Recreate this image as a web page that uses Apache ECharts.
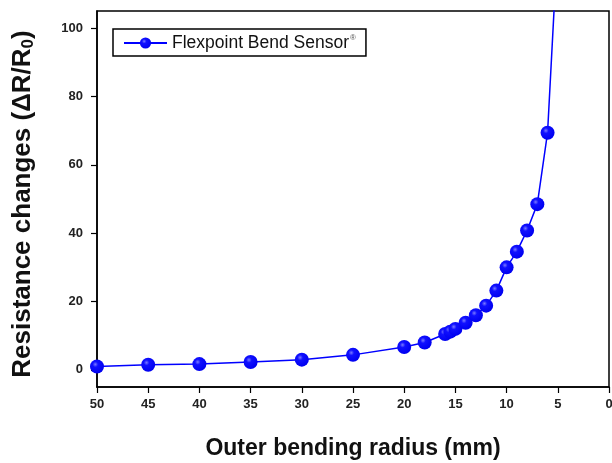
<!DOCTYPE html>
<html>
<head>
<meta charset="utf-8">
<script src="https://cdn.jsdelivr.net/npm/echarts@6/dist/echarts.min.js"></script>
<style>html,body{margin:0;padding:0;background:#fff}#c{width:612px;height:463px}</style>
</head>
<body>
<div id="c"></div>
<script>
// Data
const radius = [50, 45, 40, 35, 30, 25, 20, 18, 16, 15.5, 15, 14, 13, 12, 11, 10, 9, 8, 7, 6, 5];
const resistance = [1.0, 1.5, 1.7, 2.3, 3.0, 4.4, 6.7, 8.0, 10.5, 11.2, 12.0, 13.8, 16.0, 18.8, 23.2, 30.0, 34.6, 40.8, 48.5, 69.4, 126];
const xTicks = [50, 45, 40, 35, 30, 25, 20, 15, 10, 5, 0];
const yTicks = [0, 20, 40, 60, 80, 100];
const seriesName = 'Flexpoint Bend Sensor';

const points = radius.map((r, i) => [r, resistance[i]]);
const font = 'Arial, "Liberation Sans", sans-serif';

const chart = echarts.init(document.getElementById('c'), null, {renderer: 'canvas'});
chart.setOption({
  animation: false,
  backgroundColor: '#fff',
  grid: {left: 97, right: 3, top: 11, bottom: 76, outerBoundsMode: 'none', containLabel: false,
    show: true, borderColor: '#000', borderWidth: 1.5, backgroundColor: 'transparent'},
  legend: {
    left: 113, top: 29,
    padding: [5, 10, 4, 10],
    borderColor: '#000', borderWidth: 1.5,
    itemWidth: 43, itemHeight: 14, itemGap: 6,
    formatter: name => '{a|' + name + '}{s|®}',
    textStyle: {
      color: '#111', fontFamily: font,
      rich: {
        a: {fontSize: 17.5, fontFamily: font, color: '#111'},
        s: {fontSize: 8, fontFamily: font, color: '#555', padding: [0, 0, 10, 1]}
      }
    },
    data: [seriesName]
  },
  xAxis: {
    type: 'value', min: 0, max: 50, interval: 5, inverse: true,
    name: 'Outer bending radius (mm)', nameLocation: 'middle', nameGap: 50,
    nameTextStyle: {fontSize: 23, fontWeight: 'bold', fontFamily: font, color: '#111'},
    axisLine: {show: true, onZero: false, lineStyle: {color: '#000', width: 1.5}},
    axisTick: {show: true, inside: false, length: 6, lineStyle: {color: '#000', width: 1.2}},
    axisLabel: {fontSize: 13, fontWeight: 'bold', fontFamily: font, color: '#222', margin: 11,
      customValues: xTicks},
    splitLine: {show: false}
  },
  yAxis: {
    type: 'value', min: -5, max: 105,
    name: 'Resistance changes (ΔR/R{sub|0})', nameLocation: 'middle', nameGap: 60, nameRotate: 90,
    nameTextStyle: {fontSize: 26, fontWeight: 'bold', fontFamily: font, color: '#111', padding: [0, 10, 0, 0],
      rich: {sub: {fontSize: 17, fontWeight: 'bold', fontFamily: font, color: '#111', padding: [11, 0, 0, 0]}}},
    axisLine: {show: true, onZero: false, lineStyle: {color: '#000', width: 1.5}},
    axisTick: {show: true, inside: false, length: 6, lineStyle: {color: '#000', width: 1.2}, customValues: yTicks},
    axisLabel: {fontSize: 13, fontWeight: 'bold', fontFamily: font, color: '#222', margin: 14, customValues: yTicks},
    splitLine: {show: false}
  },
  series: [{
    name: seriesName,
    type: 'line',
    data: points,
    clip: true,
    symbol: 'circle',
    symbolSize: 14,
    lineStyle: {color: '#0000ff', width: 1.5},
    itemStyle: {
      color: {type: 'radial', x: 0.38, y: 0.35, r: 0.65,
        colorStops: [{offset: 0, color: '#7a7aff'}, {offset: 0.3, color: '#1010ff'}, {offset: 1, color: '#0000f0'}]},
      borderWidth: 0
    }
  }]
});
</script>
</body>
</html>
